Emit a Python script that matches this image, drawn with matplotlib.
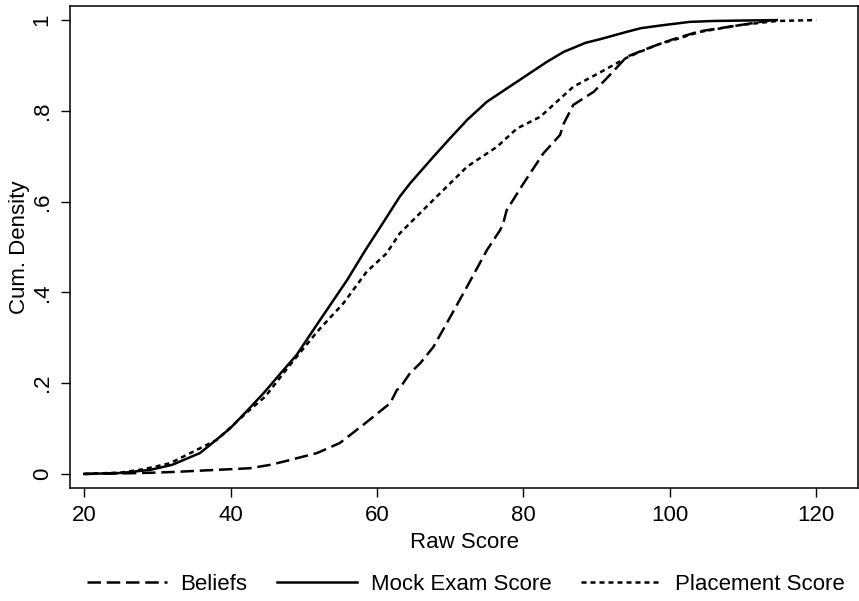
import matplotlib
matplotlib.use("Agg")
import matplotlib.pyplot as plt

plt.rcParams["font.family"] = ["Liberation Sans", "DejaVu Sans"]

# cumulative distributions
mock_x = [20, 25, 29, 32, 35.8, 37.2, 39.9, 42, 44.5, 47, 49, 52.2, 55.9, 58.4,
          61, 63.1, 64.5, 67.7, 70, 72.3, 75, 79.1, 83.2, 85.5, 88.5, 90.5, 94.1,
          96, 98.7, 102.7, 106, 110, 114.6]
mock_y = [0, 0.002, 0.009, 0.02, 0.046, 0.064, 0.10, 0.135, 0.178, 0.225, 0.262,
          0.339, 0.427, 0.493, 0.558, 0.611, 0.64, 0.699, 0.74, 0.780, 0.820,
          0.864, 0.908, 0.930, 0.950, 0.958, 0.974, 0.982, 0.988, 0.996, 0.998,
          0.999, 1.0]

place_x = [20, 25, 28, 31.7, 35, 38.1, 42.6, 44.7, 48.1, 51.8, 55.4, 58.6, 61.3,
           63.1, 67.2, 72.3, 76.4, 79.1, 82.3, 86.8, 90.5, 94.1, 95.9, 98.7,
           100.5, 104.1, 109.6, 114.6, 120]
place_y = [0, 0.003, 0.01, 0.0235, 0.05, 0.075, 0.141, 0.170, 0.240, 0.313, 0.376,
           0.446, 0.486, 0.530, 0.596, 0.677, 0.721, 0.761, 0.787, 0.853, 0.885,
           0.917, 0.930, 0.948, 0.956, 0.974, 0.989, 0.998, 1.0]

belief_x = [20, 25, 30, 33.1, 38.1, 42.6, 45.4, 47.2, 51.8, 54.9, 58.1, 61.8, 62.7,
            63.1, 64.5, 65.9, 67.7, 70, 72.3, 75, 76.8, 77.2, 77.7, 80, 82.7, 85,
            85.5, 86.8, 89.6, 91.8, 94.1, 96.4, 98.7, 100.5, 104, 110, 114]
belief_y = [0, 0.001, 0.003, 0.005, 0.009, 0.0125, 0.02, 0.027, 0.046, 0.068, 0.108,
            0.156, 0.185, 0.189, 0.222, 0.244, 0.280, 0.346, 0.413, 0.493, 0.537,
            0.55, 0.581, 0.640, 0.706, 0.747, 0.772, 0.813, 0.842, 0.879, 0.919,
            0.934, 0.948, 0.958, 0.975, 0.99, 1.0]

x_ticks = [20, 40, 60, 80, 100, 120]
y_ticks = [0, 0.2, 0.4, 0.6, 0.8, 1]
y_labels = ["0", ".2", ".4", ".6", ".8", "1"]

fig = plt.figure(figsize=(8.59, 6.01), dpi=100)
ax = fig.add_axes([70 / 859, 113 / 601, 788 / 859, 482 / 601])

lw = 1.8
ax.plot(belief_x, belief_y, color="black", lw=lw, dashes=(5.4, 2.3), label="Beliefs")
ax.plot(mock_x, mock_y, color="black", lw=lw, label="Mock Exam Score")
ax.plot(place_x, place_y, color="black", lw=lw, dashes=(2.0, 1.6), label="Placement Score")

ax.set_xlim(18.05, 125.7)
ax.set_ylim(-0.031, 1.031)
ax.set_xticks(x_ticks)
ax.set_yticks(y_ticks)
ax.set_yticklabels(y_labels, rotation=90, va="center")
ax.tick_params(labelsize=16, length=6.5, width=1, pad=6)
for s in ax.spines.values():
    s.set_linewidth(1.1)

ax.set_xlabel("Raw Score", fontsize=16, labelpad=4)
ax.set_ylabel("Cum. Density", fontsize=16, labelpad=1)

fig.legend(loc="center", bbox_to_anchor=(0.542, 0.027), ncol=3, frameon=False,
           fontsize=16, handlelength=3.6, handletextpad=0.6, columnspacing=1.35)

fig.savefig("out.png", dpi=100)
plt.close(fig)
